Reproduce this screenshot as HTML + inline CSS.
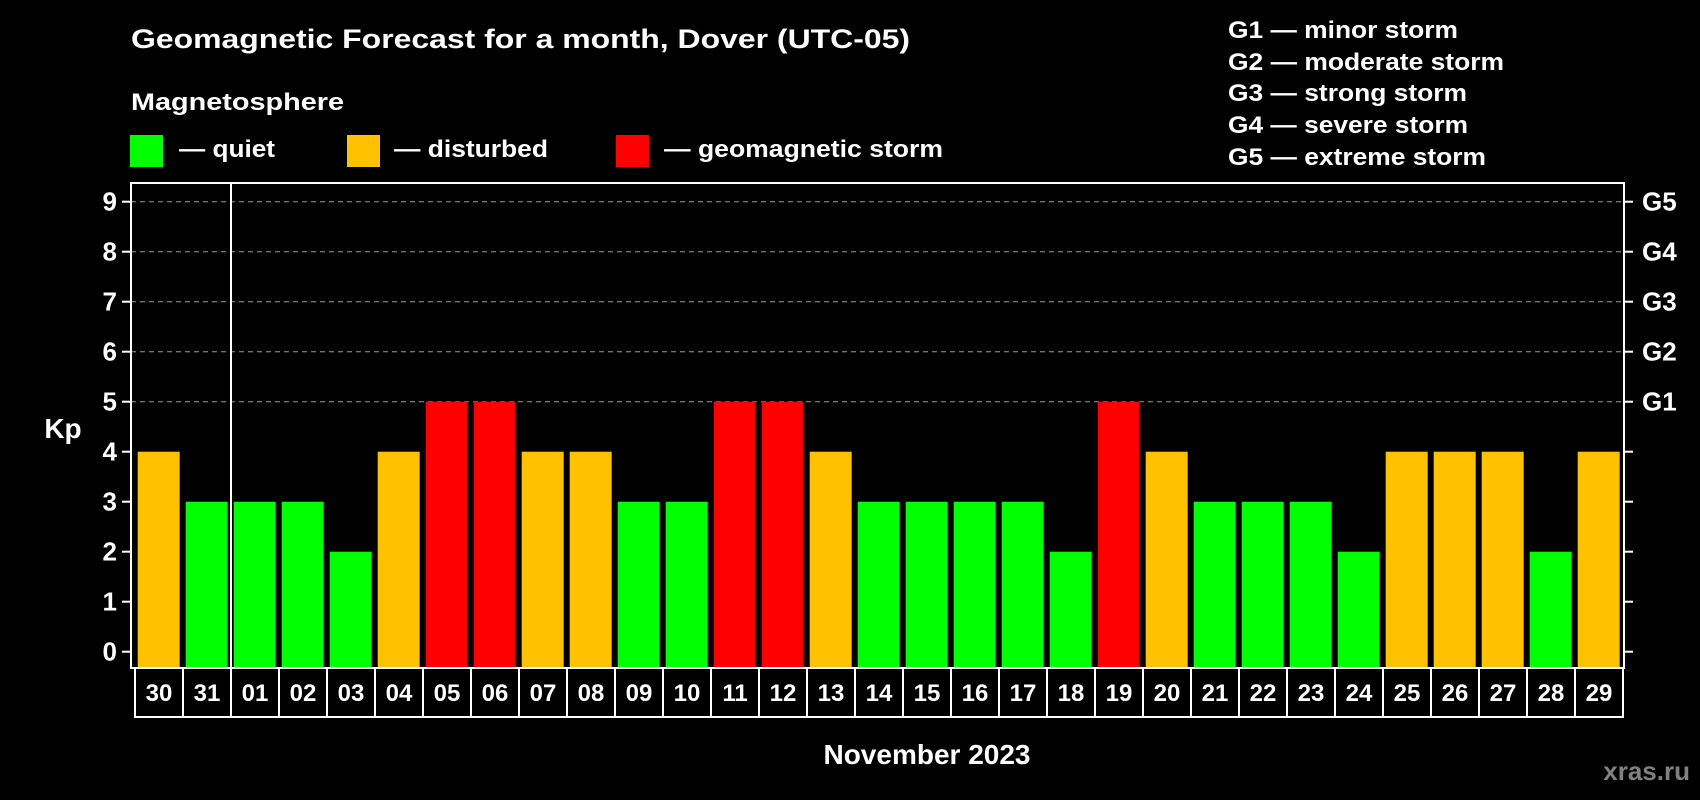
<!DOCTYPE html>
<html><head><meta charset="utf-8"><style>
html,body{margin:0;padding:0;background:#000;width:1700px;height:800px;overflow:hidden}
svg{display:block}
text{font-family:"Liberation Sans",Arial,sans-serif;font-weight:bold;fill:#fff}
</style></head><body>
<svg id="chart" width="1700" height="800" viewBox="0 0 1700 800">
<rect x="0" y="0" width="1700" height="800" fill="#000"/>
<text x="131" y="48" font-size="27" textLength="779" lengthAdjust="spacingAndGlyphs">Geomagnetic Forecast for a month, Dover (UTC-05)</text>
<text x="131" y="110" font-size="24" textLength="213" lengthAdjust="spacingAndGlyphs">Magnetosphere</text>
<g><rect x="130" y="135" width="33" height="32" fill="#00ff00"/><text x="179" y="157" font-size="24" textLength="96" lengthAdjust="spacingAndGlyphs">— quiet</text></g>
<g><rect x="347" y="135" width="33" height="32" fill="#ffc000"/><text x="394" y="157" font-size="24" textLength="154" lengthAdjust="spacingAndGlyphs">— disturbed</text></g>
<g><rect x="616" y="135" width="33" height="32" fill="#ff0000"/><text x="664" y="157" font-size="24" textLength="279" lengthAdjust="spacingAndGlyphs">— geomagnetic storm</text></g>
<g font-size="24">
<text x="1228" y="38" textLength="230" lengthAdjust="spacingAndGlyphs">G1 — minor storm</text>
<text x="1228" y="70" textLength="276" lengthAdjust="spacingAndGlyphs">G2 — moderate storm</text>
<text x="1228" y="101" textLength="239" lengthAdjust="spacingAndGlyphs">G3 — strong storm</text>
<text x="1228" y="133" textLength="240" lengthAdjust="spacingAndGlyphs">G4 — severe storm</text>
<text x="1228" y="165" textLength="258" lengthAdjust="spacingAndGlyphs">G5 — extreme storm</text>
</g>
<text x="63" y="438" font-size="28" text-anchor="middle">Kp</text>
<text x="927" y="764" font-size="28" text-anchor="middle">November 2023</text>
<text x="1690" y="780" font-size="26" text-anchor="end" style="fill:#808080">xras.ru</text>
<g id="plot"></g>
</svg>
<script>
const days = ["30","31","01","02","03","04","05","06","07","08","09","10","11","12","13","14","15","16","17","18","19","20","21","22","23","24","25","26","27","28","29"];
const kp = [4,3,3,3,2,4,5,5,4,4,3,3,5,5,4,3,3,3,3,2,5,4,3,3,3,2,4,4,4,2,4];
const yTicks = [0,1,2,3,4,5,6,7,8,9];
const gLabels = ["","","","","","G1","G2","G3","G4","G5"];

const NS = "http://www.w3.org/2000/svg";
const plot = document.getElementById('plot');
const L = 131, R = 1624, T = 183, B = 668;
const x0 = 135, pitch = 48, barW = 42;
const y = v => 651.7 - v * 50;
const x = i => x0 + i * pitch;
function mk(tag, attrs, parent) {
  const e = document.createElementNS(NS, tag);
  for (const k in attrs) e.setAttribute(k, attrs[k]);
  (parent || plot).appendChild(e);
  return e;
}
function color(v) { return v >= 5 ? "#ff0000" : v >= 4 ? "#ffc000" : "#00ff00"; }

yTicks.forEach((t, i) => {
  if (t >= 5) {
    const g = mk('line', {x1: L, x2: R, y1: y(t), y2: y(t), stroke: "#999", "stroke-width": 1, "stroke-dasharray": "5 4"});
    
    
  }
  const lt = mk('line', {x1: 122, x2: L, y1: y(t), y2: y(t), stroke: "#fff", "stroke-width": 2});
  
  
  const rt = mk('line', {x1: R, x2: 1633, y1: y(t), y2: y(t), stroke: "#fff", "stroke-width": 2});
  
  
  const tl = mk('text', {x: 117, y: y(t) + 9, "font-size": 26, "text-anchor": "end"});
  tl.textContent = t;
  
  
  if (gLabels[i]) {
    const gl = mk('text', {x: 1642, y: y(t) + 9, "font-size": 26});
    gl.textContent = gLabels[i];
    
    
  }
});

kp.forEach((v, i) => {
  const b = mk('rect', {x: x(i) + 2.7, y: y(v), width: barW, height: B - y(v), fill: color(v)});
  
  
});

const frame = mk('rect', {x: L, y: T, width: R - L, height: B - T, fill: "none", stroke: "#fff", "stroke-width": 2});


const sep = mk('line', {x1: x(2), x2: x(2), y1: T, y2: B, stroke: "#fff", "stroke-width": 2});



days.forEach((d, i) => {
  const box = mk('rect', {x: x(i), y: B, width: pitch, height: 49, fill: "none", stroke: "#fff", "stroke-width": 2});
  
  
  const t = mk('text', {x: x(i) + pitch / 2, y: 701, "font-size": 24, "text-anchor": "middle"});
  t.textContent = d;
  
  
});
</script>
</body></html>
